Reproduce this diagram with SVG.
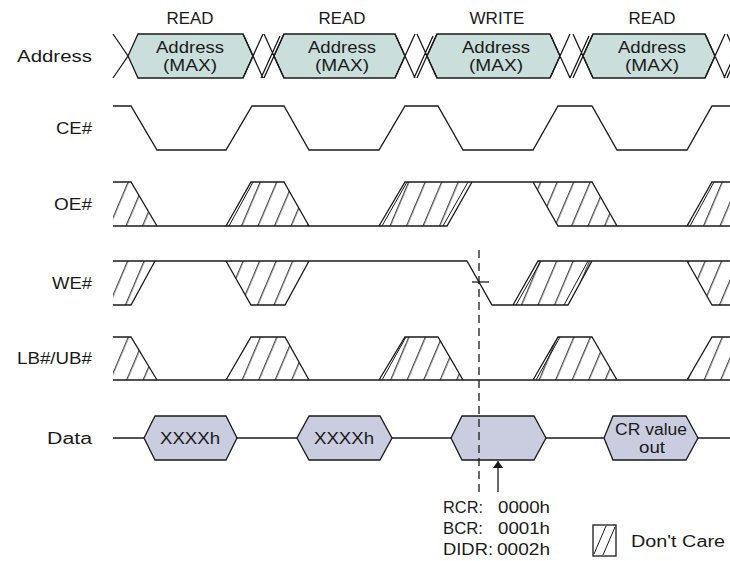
<svg xmlns="http://www.w3.org/2000/svg" width="730" height="561" viewBox="0 0 730 561">
<defs>
<pattern id="hatch" patternUnits="userSpaceOnUse" width="16.5" height="10" patternTransform="skewX(-23)">
<rect x="7" y="0" width="1.1" height="10" fill="#1a1a1a"/>
</pattern>
<marker id="arrow" viewBox="0 0 8 12" refX="8" refY="6" markerWidth="7" markerHeight="11" markerUnits="userSpaceOnUse" orient="auto">
<path d="M0,0 L8,6 L0,12 z" fill="#1a1a1a"/>
</marker>
</defs>
<style>
text{font-family:"Liberation Sans",Arial,sans-serif;font-size:16px;fill:#1a1a1a}
.m{text-anchor:middle}
.e{text-anchor:end}
.sig{fill:none;stroke:#1a1a1a;stroke-width:1.3;stroke-linejoin:miter}
.thin{fill:none;stroke:#1a1a1a;stroke-width:1}
.h{fill:url(#hatch);stroke:none}
.ah{fill:#cadedb;stroke:#1a1a1a;stroke-width:1.3}
.dh{fill:#caccdf;stroke:#1a1a1a;stroke-width:1.3}
</style>
<rect width="730" height="561" fill="#ffffff"/>

<g id="cycle-labels">
<text class="m" x="190" y="24" textLength="47" lengthAdjust="spacingAndGlyphs">READ</text>
<text class="m" x="342" y="24" textLength="47" lengthAdjust="spacingAndGlyphs">READ</text>
<text class="m" x="497" y="24" textLength="55" lengthAdjust="spacingAndGlyphs">WRITE</text>
<text class="m" x="652" y="24" textLength="47" lengthAdjust="spacingAndGlyphs">READ</text>
</g>

<g id="signal-names">
<text class="e" x="92" y="61.5" textLength="75" lengthAdjust="spacingAndGlyphs">Address</text>
<text class="e" x="92" y="133.5" textLength="36" lengthAdjust="spacingAndGlyphs">CE#</text>
<text class="e" x="92" y="209.5" textLength="38" lengthAdjust="spacingAndGlyphs">OE#</text>
<text class="e" x="92" y="288.5" textLength="40" lengthAdjust="spacingAndGlyphs">WE#</text>
<text class="e" x="92" y="363.5" textLength="75" lengthAdjust="spacingAndGlyphs">LB#/UB#</text>
<text class="e" x="92" y="443.5" textLength="45" lengthAdjust="spacingAndGlyphs">Data</text>
</g>

<g id="address">
<polygon class="ah" points="128,56 138,34 243,34 253,56 243,78 138,78"/>
<polygon class="ah" points="274,56 284,34 395,34 405,56 395,78 284,78"/>
<polygon class="ah" points="427,56 437,34 550,34 560,56 550,78 437,78"/>
<polygon class="ah" points="583,56 593,34 705,34 715,56 705,78 593,78"/>
<path class="sig" d="M113,34 L128,56 L113,78
M243,34 L263,78 M243,78 L263,34 M264,34 L284,78 M264,78 L284,34 M261,78 L280,36
M395,34 L415,78 M395,78 L415,34 M417,34 L437,78 M417,78 L437,34 M414,78 L433,36
M550,34 L570,78 M550,78 L570,34 M573,34 L593,78 M573,78 L593,34 M570,78 L589,36
M705,34 L725,78 M705,78 L725,34 M727,34 L747,78 M727,78 L747,34 M724,78 L743,36"/>
<text class="m" x="190" y="52.5" textLength="68" lengthAdjust="spacingAndGlyphs">Address</text>
<text class="m" x="190" y="71" textLength="54" lengthAdjust="spacingAndGlyphs">(MAX)</text>
<text class="m" x="342" y="52.5" textLength="68" lengthAdjust="spacingAndGlyphs">Address</text>
<text class="m" x="342" y="71" textLength="54" lengthAdjust="spacingAndGlyphs">(MAX)</text>
<text class="m" x="496" y="52.5" textLength="68" lengthAdjust="spacingAndGlyphs">Address</text>
<text class="m" x="496" y="71" textLength="54" lengthAdjust="spacingAndGlyphs">(MAX)</text>
<text class="m" x="652" y="52.5" textLength="68" lengthAdjust="spacingAndGlyphs">Address</text>
<text class="m" x="652" y="71" textLength="54" lengthAdjust="spacingAndGlyphs">(MAX)</text>
</g>

<g id="ce">
<polyline class="sig" points="113,106 131,106 157,150 226,150 252,106 284,106 309,150 379,150 405,106 438,106 463,150 533,150 558,106 592,106 617,150 687,150 712,106 730,106"/>
</g>

<g id="oe">
<polygon class="h" points="113,182 131,182 157,226 113,226"/>
<polygon class="h" points="226,226 251,182 284,182 309,226"/>
<polygon class="h" points="379,226 405,182 472,182 447,226"/>
<polygon class="h" points="533,182 592,182 617,226 558,226"/>
<polygon class="h" points="687,226 712,182 730,182 730,226"/>
<path class="sig" d="M113,182 L131,182 L157,226 M113,226 L447,226 L472,182 M226,226 L251,182 L284,182 L309,226 M379,226 L405,182 L592,182 L617,226 M533,182 L558,226 L730,226 M687,226 L712,182 L730,182"/>
<path class="thin" d="M229,226 L253,182 M382,226 L407,182 M443,226 L468,182 M690,226 L714,182"/>
</g>

<g id="we">
<polygon class="h" points="113,261 155,261 131,305 113,305"/>
<polygon class="h" points="226,261 309,261 285,305 251,305"/>
<polygon class="h" points="513,305 538,261 592,261 568,305"/>
<polygon class="h" points="687,261 730,261 730,305 712,305"/>
<path class="sig" d="M113,261 L467,261 L492,305 L568,305 L592,261 M113,305 L131,305 L155,261 M226,261 L251,305 L285,305 L309,261 M513,305 L538,261 L730,261 M687,261 L712,305 L730,305"/>
<path class="thin" d="M516,305 L541,261 M564,305 L588,261"/>
</g>

<g id="lb-ub">
<polygon class="h" points="113,337 131,337 157,380 113,380"/>
<polygon class="h" points="226,380 251,337 285,337 309,380"/>
<polygon class="h" points="379,380 405,337 438,337 463,380"/>
<polygon class="h" points="533,380 558,337 592,337 617,380"/>
<polygon class="h" points="687,380 712,337 730,337 730,380"/>
<path class="sig" d="M113,337 L131,337 L157,380 M113,380 L730,380 M226,380 L251,337 L285,337 L309,380 M379,380 L405,337 L438,337 L463,380 M533,380 L558,337 L592,337 L617,380 M687,380 L712,337 L730,337"/>
<path class="thin" d="M382,380 L406,337 M536,380 L560,337"/>
</g>

<g id="data">
<line class="sig" x1="113" y1="438" x2="730" y2="438"/>
<polygon class="dh" points="144,438 155,416 226,416 237,438 226,460 155,460"/>
<polygon class="dh" points="297,438 309,416 380,416 392,438 380,460 309,460"/>
<polygon class="dh" points="451,438 462,416 534,416 546,438 534,460 462,460"/>
<polygon class="dh" points="604,438 613,416 686,416 698,438 686,460 613,460"/>
<text class="m" x="190" y="444" textLength="60" lengthAdjust="spacingAndGlyphs">XXXXh</text>
<text class="m" x="344" y="444" textLength="60" lengthAdjust="spacingAndGlyphs">XXXXh</text>
<text class="m" x="651" y="435" textLength="72" lengthAdjust="spacingAndGlyphs">CR value</text>
<text class="m" x="652" y="453" textLength="26" lengthAdjust="spacingAndGlyphs">out</text>
</g>

<g id="connectors">
<line x1="479" y1="250" x2="479" y2="492" stroke="#1a1a1a" stroke-width="1.3" stroke-dasharray="8 5"/>
<line class="sig" x1="472" y1="282" x2="489" y2="282"/>
<line class="sig" x1="498" y1="492" x2="498" y2="461" marker-end="url(#arrow)"/>
</g>

<g id="register-note">
<text x="443" y="513" textLength="40" lengthAdjust="spacingAndGlyphs">RCR:</text>
<text x="498" y="513" textLength="52" lengthAdjust="spacingAndGlyphs">0000h</text>
<text x="443" y="534" textLength="40" lengthAdjust="spacingAndGlyphs">BCR:</text>
<text x="498" y="534" textLength="52" lengthAdjust="spacingAndGlyphs">0001h</text>
<text x="443" y="555" textLength="50" lengthAdjust="spacingAndGlyphs">DIDR:</text>
<text x="497" y="555" textLength="53" lengthAdjust="spacingAndGlyphs">0002h</text>
</g>

<g id="legend">
<rect x="593" y="525" width="23" height="31" fill="#ffffff" stroke="#1a1a1a" stroke-width="1.3"/>
<path class="thin" d="M594,554 L606,526 M603,555 L615,527"/>
<text x="631" y="547" textLength="94" lengthAdjust="spacingAndGlyphs">Don't Care</text>
</g>
</svg>
